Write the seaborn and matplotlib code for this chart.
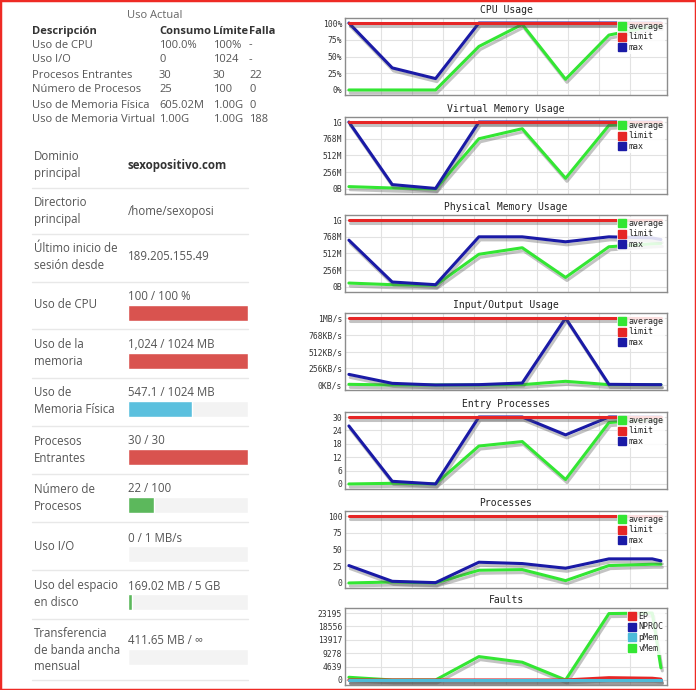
import numpy as np
import pandas as pd
import matplotlib
matplotlib.use('Agg')
import matplotlib.pyplot as plt
import matplotlib.patheffects as pe
from matplotlib.lines import Line2D
from matplotlib.patches import Rectangle
import seaborn as sns

W, H = 696, 690

# -------------------------------
# datos: tabla "Uso Actual"
# -------------------------------
tabla_desc = ['Uso de CPU', 'Uso I/O', 'Procesos Entrantes', 'Número de Procesos',
              'Uso de Memoria Física', 'Uso de Memoria Virtual']
tabla_consumo = ['100.0%', '0', '30', '25', '605.02M', '1.00G']
tabla_limite = ['100%', '1024', '30', '100', '1.00G', '1.00G']
tabla_falla = ['-', '-', '22', '0', '0', '188']

# -------------------------------
# datos: estadísticas de la cuenta
# -------------------------------
info_labels = ['Dominio\nprincipal', 'Directorio\nprincipal', 'Último inicio de\nsesión desde']
info_values = ['sexopositivo.com', '/home/sexoposi', '189.205.155.49']

uso_labels = ['Uso de CPU', 'Uso de la\nmemoria', 'Uso de\nMemoria Física', 'Procesos\nEntrantes',
              'Número de\nProcesos', 'Uso I/O', 'Uso del espacio\nen disco',
              'Transferencia\nde banda ancha\nmensual']
uso_textos = ['100 / 100 %', '1,024 / 1024 MB', '547.1 / 1024 MB', '30 / 30', '22 / 100',
              '0 / 1 MB/s', '169.02 MB / 5 GB', '411.65 MB / ∞']
uso_actual = [100, 1024, 547.1, 30, 22, 0, 169.02, 411.65]
uso_maximo = [100, 1024, 1024, 30, 100, 1, 5120, np.inf]
uso_colores = ['#d9534f', '#d9534f', '#5bc0de', '#d9534f', '#5cb85c', '#5cb85c', '#5cb85c', '#5cb85c']

# -------------------------------
# datos: gráficas de uso (tiempo en intervalos)
# -------------------------------
t = [0, 1, 2, 3, 4, 5, 6, 7, 7.2]

cpu_avg = [0, 0, 0, 65, 98, 16, 82, 95, 95]
cpu_max = [100, 33, 17, 100, 100, 100, 100, 100, 100]
cpu_lim = [100, 100, 100, 100, 100, 100, 100, 100, 100]

vmem_avg = [36, 15, 0, 768, 922, 164, 973, 1010, 1000]
vmem_max = [1024, 67, 8, 1024, 1024, 1024, 1024, 1024, 1024]
vmem_lim = [1024, 1024, 1024, 1024, 1024, 1024, 1024, 1024, 1024]

pmem_avg = [60, 35, 25, 500, 600, 146, 615, 660, 666]
pmem_max = [716, 76, 35, 767, 767, 691, 767, 750, 726]
pmem_lim = [1024, 1024, 1024, 1024, 1024, 1024, 1024, 1024, 1024]

io_avg = [10, 0, 0, 0, 5, 56, 5, 5, 5]
io_max = [162, 25, 0, 5, 30, 1024, 10, 5, 5]
io_lim = [1024, 1024, 1024, 1024, 1024, 1024, 1024, 1024, 1024]

ep_avg = [0, 0.3, 0, 17, 19, 2, 27.5, 29, 29]
ep_max = [26, 1.2, 0, 30, 30, 22, 30, 30, 30]
ep_lim = [30, 30, 30, 30, 30, 30, 30, 30, 30]

proc_avg = [0, 1.5, 0, 19, 20, 3.5, 26, 28, 28]
proc_max = [26, 2.5, 0.5, 31, 29, 22, 36, 36, 33]
proc_lim = [100, 100, 100, 100, 100, 100, 100, 100, 100]

falla_ep = [0, 0, 0, 0, 0, 0, 800, 600, 300]
falla_nproc = [0, 0, 0, 0, 0, 0, 0, 0, 0]
falla_pmem = [0, 0, 0, 0, 0, 0, 0, 0, 0]
falla_vmem = [930, 0, 0, 8100, 6150, 0, 23000, 23195, 4200]

VERDE, ROJO, AZUL, CIAN = '#33e633', '#e62626', '#1a1aa6', '#4cbbd9'

sns.set_style('white')
plt.rcParams['font.family'] = ['Open Sans', 'DejaVu Sans']

fig = plt.figure(figsize=(W / 100, H / 100), dpi=100)
fig.patch.set_facecolor('white')

# fondo en coordenadas de pixel para el panel izquierdo
bg = fig.add_axes([0, 0, 1, 1])
bg.set_xlim(0, W)
bg.set_ylim(H, 0)
bg.axis('off')

# -------------------------------
# tabla superior
# -------------------------------
gris = '#555555'
bg.text(155, 16, 'Uso Actual', ha='center', va='center', fontsize=8, color='#666666')
cols_x = [32, 159, 213, 249]
for x, h in zip(cols_x, ['Descripción', 'Consumo', 'Límite', 'Falla']):
    bg.text(x, 31.5, h, ha='left', va='center', fontsize=8, fontweight='bold', color='#333333')
filas_y = [45, 60, 75, 90, 105, 119.5]
for i, y in enumerate(filas_y):
    for x, col in zip(cols_x, [tabla_desc, tabla_consumo, tabla_limite, tabla_falla]):
        bg.text(x, y, col[i], ha='left', va='center', fontsize=8, color=gris)

# -------------------------------
# tabla inferior
# -------------------------------
for y in [188, 234, 282, 329, 378, 426, 474, 522, 570, 619, 680]:
    bg.plot([32, 248], [y, y], color='#e8e8e8', lw=1)

for lab, val, y in zip(info_labels, info_values, [165, 211, 257]):
    negrita = val.endswith('.com')
    bg.text(34, y, lab, ha='left', va='center', fontsize=8.3, color=gris, linespacing=1.35)
    bg.text(128, y, val, ha='left', va='center', fontsize=8.3,
            color='#333333' if negrita else gris, fontweight='bold' if negrita else 'normal')

barra_top = [305, 353, 401, 449, 497, 546, 594, 649]
label_y = [304, 353, 401, 450, 498, 547, 594, 650]
for i in range(len(uso_labels)):
    bg.text(34, label_y[i], uso_labels[i], ha='left', va='center', fontsize=8.3, color=gris, linespacing=1.35)
    bg.text(128, barra_top[i] - 8, uso_textos[i], ha='left', va='center', fontsize=8.3, color=gris)
    bx = fig.add_axes([128 / W, 1 - (barra_top[i] + 16) / H, 120 / W, 16 / H])
    frac = 0 if np.isinf(uso_maximo[i]) else uso_actual[i] / uso_maximo[i]
    sns.barplot(x=[1.0], y=[0], orient='h', color='#f3f3f3', width=1, ax=bx, saturation=1)
    sns.barplot(x=[frac], y=[0], orient='h', color=uso_colores[i], width=1, ax=bx, saturation=1)
    bx.set_xlim(0, 1)
    bx.axis('off')

# -------------------------------
# gráficas
# -------------------------------
mono = 'DejaVu Sans Mono'
sombra = [pe.SimpleLineShadow(offset=(1, -2.2), shadow_color='#555555', alpha=0.35), pe.Normal()]


def grafica(top, titulo, series, yticks, ylabels, leyenda):
    ax = fig.add_axes([345 / W, 1 - (top + 77) / H, 322 / W, 77 / H])
    nombres = [s[0] for s in series]
    df = pd.concat([pd.DataFrame({'t': t, 'v': s[1], 'serie': s[0]}) for s in series])
    sns.lineplot(data=df, x='t', y='v', hue='serie', hue_order=nombres,
                 palette=[s[2] for s in series], estimator=None, sort=False,
                 legend=False, lw=2.2, ax=ax)
    for ln in ax.lines:
        ln.set_path_effects(sombra)
        ln.set_solid_joinstyle('round')
    lo, hi = yticks[0], yticks[-1]
    pad = 0.075 * (hi - lo)
    ax.set_ylim(lo - pad, hi + pad)
    ax.set_xlim(-0.09, 7.34)
    ax.set_yticks(yticks)
    ax.set_yticklabels(ylabels, fontsize=5.8, family=mono, color='#333333')
    ax.set_xticks(np.arange(0.746, 6.6, 0.717))
    ax.set_xticklabels([])
    ax.tick_params(length=0, pad=2)
    ax.grid(True, color='#e2e2e2', lw=0.8)
    ax.set_axisbelow(True)
    ax.set_xlabel('')
    ax.set_ylabel('')
    for sp in ax.spines.values():
        sp.set_color('#8c8c8c')
        sp.set_linewidth(1)
    ax.set_title(titulo, fontsize=7, family=mono, color='#222222', pad=3.5)
    handles = [Line2D([], [], marker='s', ls='', color=c, markersize=5.5) for _, c in leyenda]
    ax.legend(handles, [n for n, _ in leyenda], loc='upper right', bbox_to_anchor=(0.995, 0.975),
              prop={'family': mono, 'size': 6}, handlelength=0.8, handletextpad=0.4,
              labelspacing=0.22, borderpad=0.2, borderaxespad=0, frameon=True,
              facecolor='white', framealpha=0.85, edgecolor='none')
    return ax


ley_uso = [('average', VERDE), ('limit', ROJO), ('max', AZUL)]

grafica(18, 'CPU Usage',
        [('average', cpu_avg, VERDE), ('max', cpu_max, AZUL), ('limit', cpu_lim, ROJO)],
        [0, 25, 50, 75, 100], ['0%', '25%', '50%', '75%', '100%'], ley_uso)
grafica(117, 'Virtual Memory Usage',
        [('average', vmem_avg, VERDE), ('max', vmem_max, AZUL), ('limit', vmem_lim, ROJO)],
        [0, 256, 512, 768, 1024], ['0B', '256M', '512M', '768M', '1G'], ley_uso)
grafica(215, 'Physical Memory Usage',
        [('average', pmem_avg, VERDE), ('max', pmem_max, AZUL), ('limit', pmem_lim, ROJO)],
        [0, 256, 512, 768, 1024], ['0B', '256M', '512M', '768M', '1G'], ley_uso)
grafica(313, 'Input/Output Usage',
        [('average', io_avg, VERDE), ('max', io_max, AZUL), ('limit', io_lim, ROJO)],
        [0, 256, 512, 768, 1024], ['0KB/s', '256KB/s', '512KB/s', '768KB/s', '1MB/s'], ley_uso)
grafica(412, 'Entry Processes',
        [('average', ep_avg, VERDE), ('max', ep_max, AZUL), ('limit', ep_lim, ROJO)],
        [0, 6, 12, 18, 24, 30], ['0', '6', '12', '18', '24', '30'], ley_uso)
grafica(511, 'Processes',
        [('average', proc_avg, VERDE), ('max', proc_max, AZUL), ('limit', proc_lim, ROJO)],
        [0, 25, 50, 75, 100], ['0', '25', '50', '75', '100'], ley_uso)
grafica(608, 'Faults',
        [('vMem', falla_vmem, VERDE), ('NPROC', falla_nproc, AZUL), ('EP', falla_ep, ROJO),
         ('pMem', falla_pmem, CIAN)],
        [0, 4639, 9278, 13917, 18556, 23195], ['0', '4639', '9278', '13917', '18556', '23195'],
        [('EP', ROJO), ('NPROC', AZUL), ('pMem', CIAN), ('vMem', VERDE)])

# borde rojo de la captura
fig.patches.append(Rectangle((0, 0), 1, 1, transform=fig.transFigure, fill=False,
                             edgecolor='#ee2a24', lw=2.5))

fig.savefig('out.png', dpi=100)
